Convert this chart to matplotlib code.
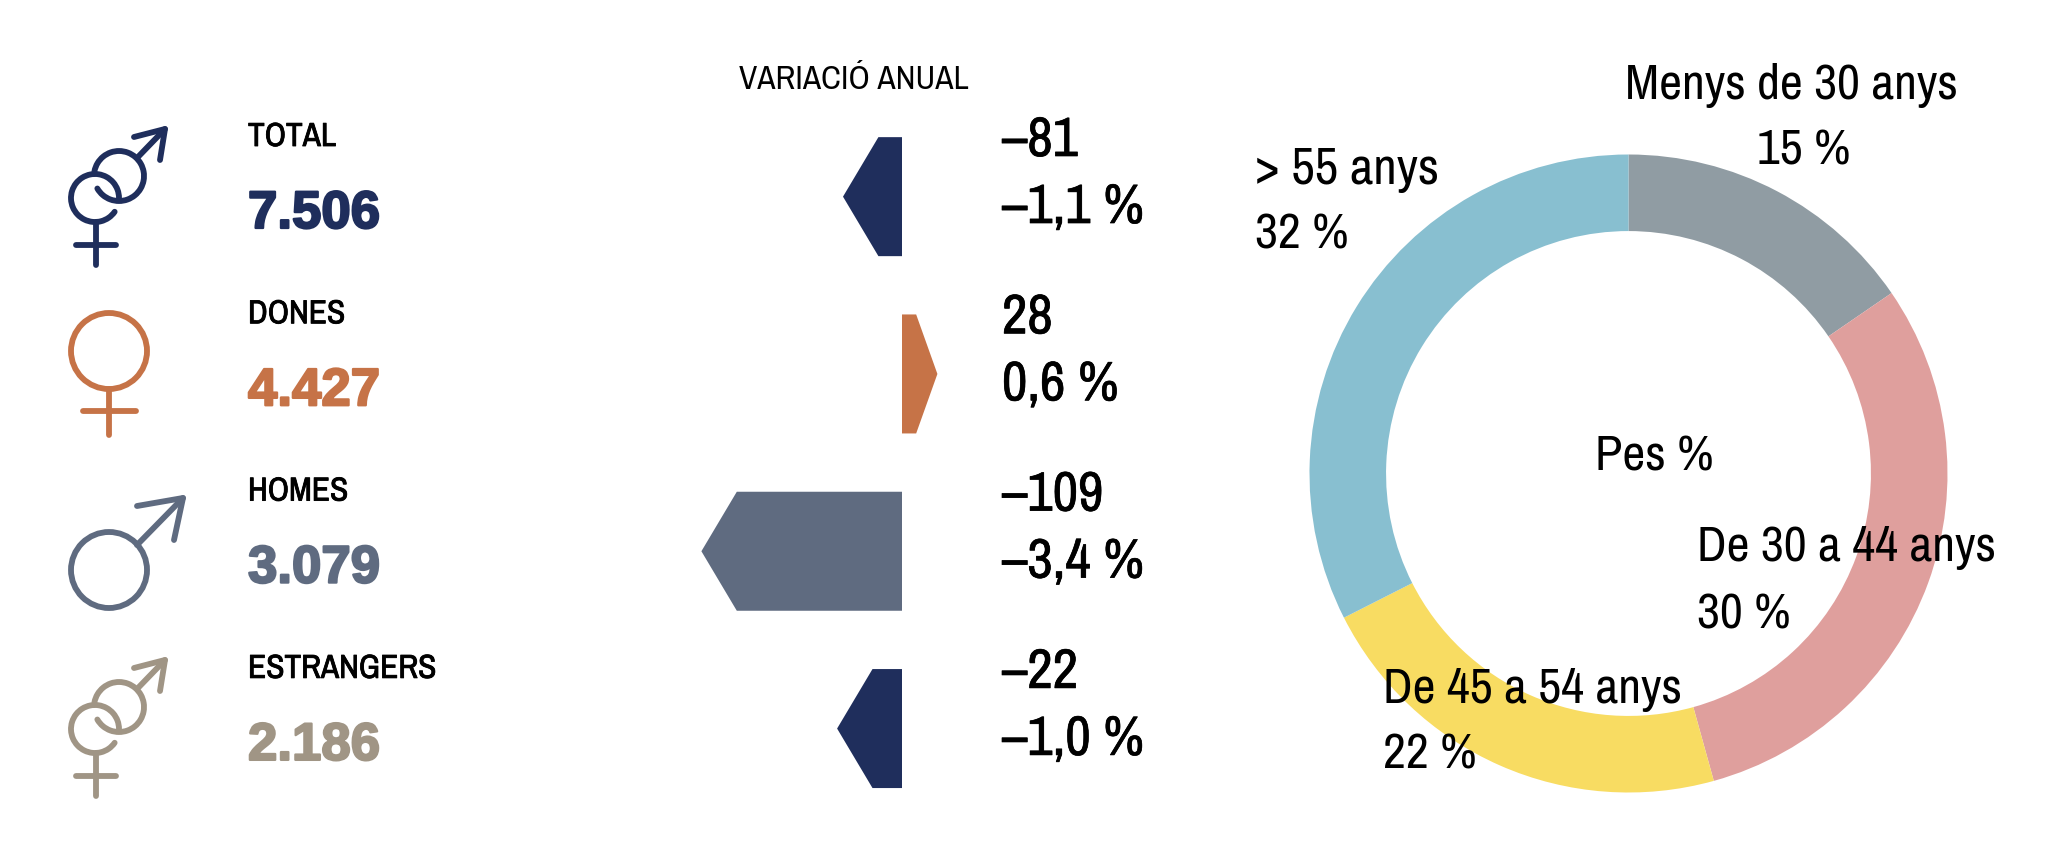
# -*- encoding: utf-8 -*-
import matplotlib
matplotlib.use("Agg")
import logging
import matplotlib.pyplot as plt
import matplotlib.patheffects as pe
from matplotlib.patches import Arc, Circle

logging.getLogger("matplotlib.font_manager").setLevel(logging.ERROR)

W, H = 2067, 850
NARROW = ["Archivo Narrow", "Liberation Sans Narrow", "Liberation Sans"]

# dades
categories = ["TOTAL", "DONES", "HOMES", "ESTRANGERS"]
totals = ["7.506", "4.427", "3.079", "2.186"]
var_abs = ["–81", "28", "–109", "–22"]
var_pct = ["–1,1 %", "0,6 %", "–3,4 %", "–1,0 %"]
bar_lengths = [-1.0, 0.6, -3.4, -1.1]  # llargada dibuixada de cada fletxa

age_labels = ["Menys de 30 anys", "De 30 a 44 anys", "De 45 a 54 anys", "> 55 anys"]
age_pct_labels = ["15 %", "30 %", "22 %", "32 %"]
age_shares = [15.4, 30.2, 21.8, 32.4]  # llegit de l'anell, sense arrodonir

NAVY = "#1F2E5C"
ORANGE = "#C67347"
SLATE = "#5F6B80"
TAN = "#A09585"
text_colors = [NAVY, ORANGE, SLATE, TAN]
bar_colors = [NAVY, ORANGE, SLATE, NAVY]
age_colors = ["#909CA3", "#DF9F9D", "#F8DC62", "#88BFD0"]

ROW = 177.3
LW = 4.2


def px_axes(fig, left, top, right, bottom):
    return fig.add_axes([left / W, 1 - bottom / H, (right - left) / W, (bottom - top) / H])


def line(ax, xs, ys, color):
    ax.plot(xs, ys, color=color, lw=LW, solid_capstyle="round", solid_joinstyle="round")


def arrow(ax, x0, y0, tip, arm1, arm2, color):
    line(ax, [x0, tip[0]], [y0, tip[1]], color)
    line(ax, [arm1[0], tip[0], arm2[0]], [arm1[1], tip[1], arm2[1]], color)


def double_icon(ax, dy, color):
    """els dos cercles enllacats, dona i home"""
    a = Arc((95, 198 + dy), 48, 48, theta1=35, theta2=360, color=color, lw=LW, capstyle="round")
    b = Arc((119, 176 + dy), 50, 50, theta1=-169, theta2=150, color=color, lw=LW, capstyle="round")
    ax.add_patch(a)
    ax.add_patch(b)
    line(ax, [96, 96], [222 + dy, 265 + dy], color)
    line(ax, [76, 116], [245 + dy, 245 + dy], color)
    arrow(ax, 137, 158 + dy, (165, 129 + dy), (134, 137 + dy), (160, 160 + dy), color)


def female_icon(ax, dy, color):
    ax.add_patch(Circle((109, 173 + dy), 38, fill=False, ec=color, lw=LW))
    line(ax, [109, 109], [211 + dy, 257 + dy], color)
    line(ax, [83, 136], [233 + dy, 233 + dy], color)


def male_icon(ax, dy, color):
    ax.add_patch(Circle((109, 214 + dy), 38, fill=False, ec=color, lw=LW))
    arrow(ax, 137, 189 + dy, (183, 142 + dy), (137, 150 + dy), (174, 184 + dy), color)


fig = plt.figure(figsize=(W / 100, H / 100), dpi=100, facecolor="white")

# fletxes de variacio anual
ax_bars = px_axes(fig, 680, 108, 960, 108 + 4 * ROW)
PX = 59.0
ax_bars.set_xlim((680 - 902) / PX, (960 - 902) / PX)
ax_bars.set_ylim(3.5, -0.5)
ax_bars.axis("off")
half = 119 / ROW / 2
for i, (v, c) in enumerate(zip(bar_lengths, bar_colors)):
    head = 0.6 if v < 0 else 0.36
    sign = -1 if v < 0 else 1
    shoulder = v - sign * head
    ax_bars.fill([0, shoulder, v, shoulder, 0],
                 [i - half, i - half, i, i + half, i + half], color=c, lw=0)

# anell d'edats
ax_pie = px_axes(fig, 1628.5 - 319, 473.5 - 319, 1628.5 + 319, 473.5 + 319)
ax_pie.pie(age_shares, colors=age_colors, startangle=90, counterclock=False,
           radius=1, wedgeprops={"width": 0.24, "linewidth": 0})
ax_pie.set_xlim(-1, 1)
ax_pie.set_ylim(-1, 1)

# capa de textos i icones, en pixels
ax = fig.add_axes([0, 0, 1, 1], zorder=5)
ax.set_xlim(0, W)
ax.set_ylim(H, 0)
ax.axis("off")
ax.patch.set_alpha(0)

double_icon(ax, 0, NAVY)
female_icon(ax, 178, ORANGE)
male_icon(ax, 356, SLATE)
double_icon(ax, 531, TAN)

for i in range(4):
    ax.text(248, 137 + i * ROW, categories[i], family=NARROW, fontsize=24, va="center", color="black",
            path_effects=[pe.withStroke(linewidth=0.6, foreground="black")])
    ax.text(248, 214 + i * ROW, totals[i], family="Liberation Sans", weight="bold", fontsize=38,
            va="center", color=text_colors[i],
            path_effects=[pe.withStroke(linewidth=1.6, foreground=text_colors[i])])
    ax.text(1002, 141 + i * ROW, var_abs[i], family=NARROW, fontsize=40, va="center", color="black",
            path_effects=[pe.withStroke(linewidth=0.5, foreground="black")])
    ax.text(1002, 208 + i * ROW, var_pct[i], family=NARROW, fontsize=40, va="center", color="black",
            path_effects=[pe.withStroke(linewidth=0.5, foreground="black")])

ax.text(739, 80, "VARIACIÓ ANUAL", family=NARROW, fontsize=24, va="center", color="black")

ax.text(1625, 85, age_labels[0], family=NARROW, fontsize=36, va="center")
ax.text(1804, 151, age_pct_labels[0], family=NARROW, fontsize=36, va="center", ha="center")
ax.text(1697, 548, age_labels[1], family=NARROW, fontsize=36, va="center")
ax.text(1697, 615, age_pct_labels[1], family=NARROW, fontsize=36, va="center")
ax.text(1383, 690, age_labels[2], family=NARROW, fontsize=36, va="center")
ax.text(1383, 755, age_pct_labels[2], family=NARROW, fontsize=36, va="center")
ax.text(1255, 169, age_labels[3], family=NARROW, fontsize=37, va="center")
ax.text(1255, 235, age_pct_labels[3], family=NARROW, fontsize=36, va="center")
ax.text(1595, 457, "Pes %", family=NARROW, fontsize=36, va="center")

fig.savefig("out.png", dpi=100)
